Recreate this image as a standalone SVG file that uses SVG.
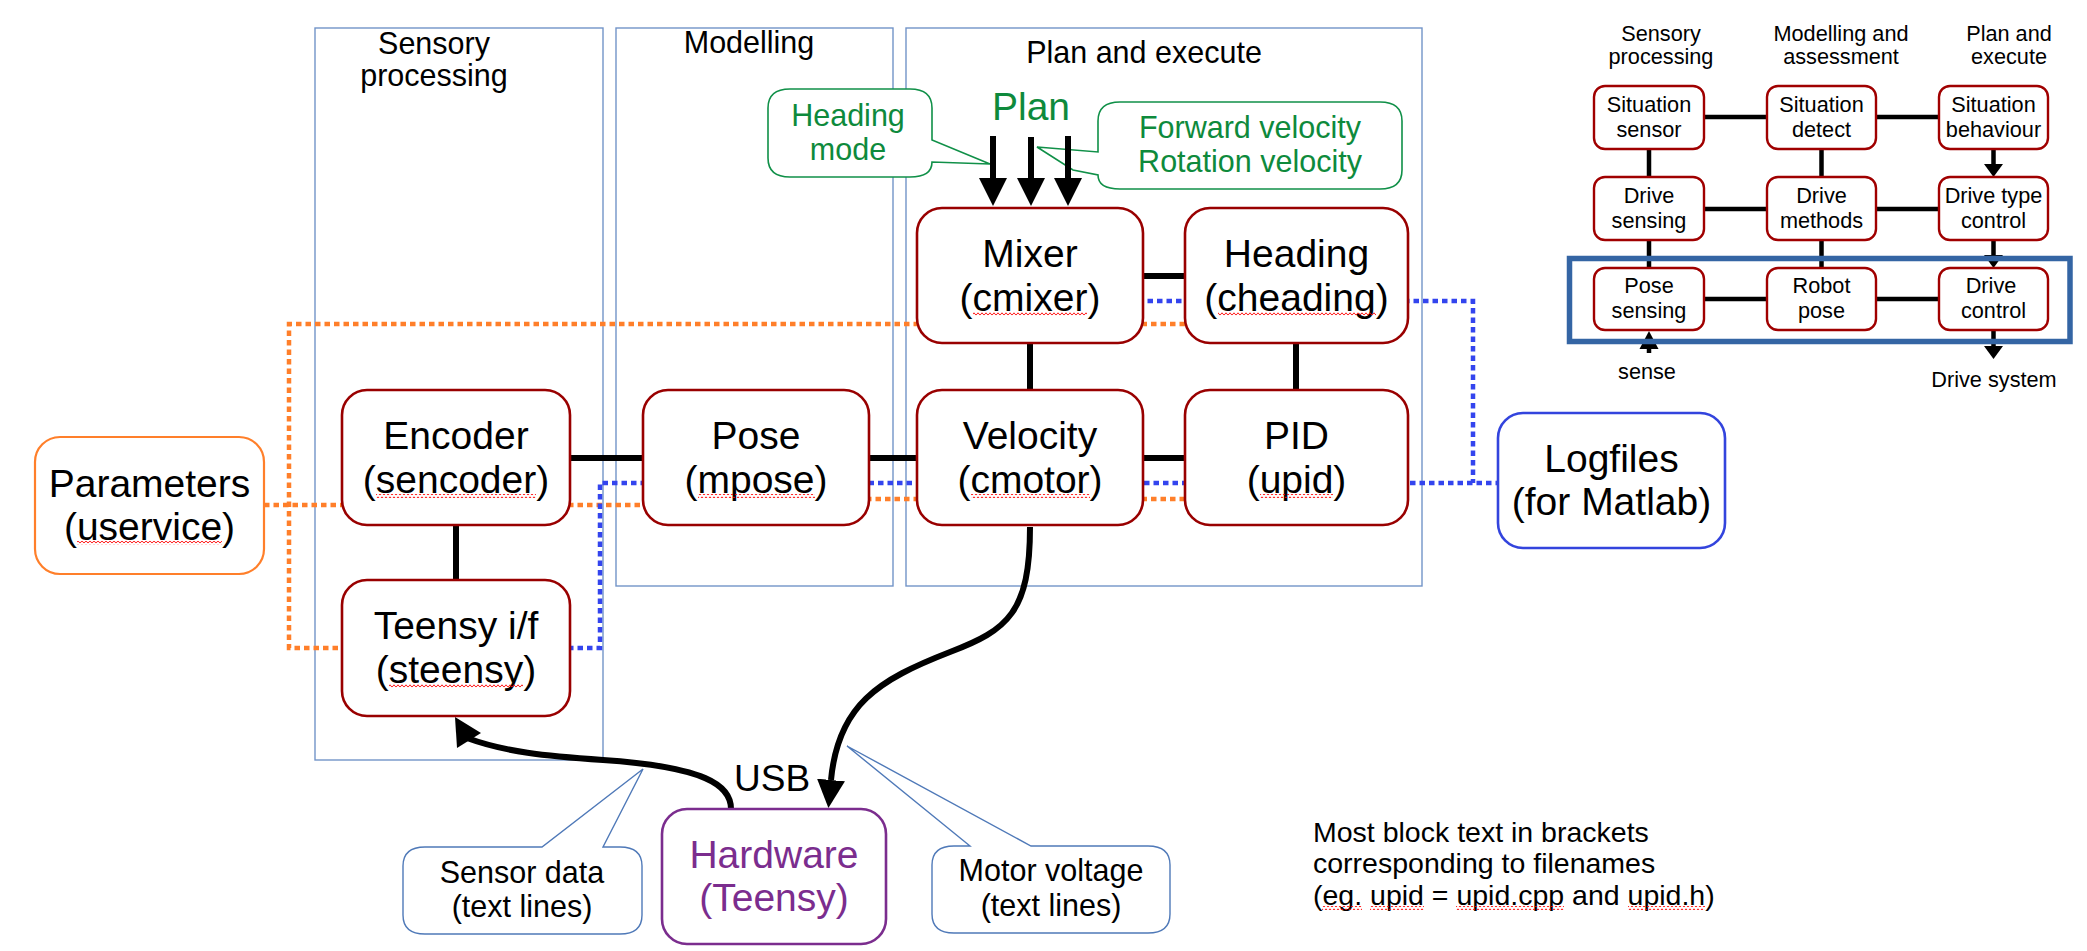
<svg xmlns="http://www.w3.org/2000/svg" width="2087" height="951" viewBox="0 0 2087 951">
<defs>
<style>
text{font-family:"Liberation Sans",Arial,sans-serif;fill:#000}
.c{text-anchor:middle}
.big{font-size:39px}
.ttl{font-size:30.5px}
.sm{font-size:21.7px}
.note{font-size:28.5px}
.grn{fill:#0e8a3c}
.pur{fill:#7b2d8e}
.cont{fill:none;stroke:#7294c8;stroke-width:1.4}
.node{fill:#fff;stroke:#990000;stroke-width:2.6}
.snode{fill:#fff;stroke:#a00000;stroke-width:2.4}
.conn{stroke:#000;stroke-width:6;fill:none}
.sconn{stroke:#000;stroke-width:4.5;fill:none}
.orange{stroke:#ff7f2a;stroke-width:4.5;stroke-dasharray:5.5 4;fill:none}
.blue{stroke:#3344ee;stroke-width:4.5;stroke-dasharray:5.5 4;fill:none}
.call{fill:#fff;stroke:#4f79b8;stroke-width:1.4}
.gcall{fill:#fff;stroke:#109048;stroke-width:1.6}
.sq{fill:url(#sq)}
.head{fill:#000}
</style>
<pattern id="sq" width="4" height="4" patternUnits="userSpaceOnUse"><path d="M0,3.2 L2,0.8 L4,3.2" fill="none" stroke="#f00" stroke-width="0.9"/></pattern>
<marker id="ah" markerUnits="userSpaceOnUse" markerWidth="28" markerHeight="28" refX="0" refY="14" orient="auto" viewBox="0 0 28 28"><path d="M0,0 L28,14 L0,28 Z" fill="#000"/></marker>
<marker id="sah" markerUnits="userSpaceOnUse" markerWidth="13" markerHeight="19" refX="0" refY="9.5" orient="auto" viewBox="0 0 13 19"><path d="M0,0 L13,9.5 L0,19 Z" fill="#000"/></marker>
</defs>
<rect width="2087" height="951" fill="#fff"/>

<g id="containers">
<rect class="cont" x="315" y="28" width="288" height="732"/>
<rect class="cont" x="616" y="28" width="277" height="558"/>
<rect class="cont" x="906" y="28" width="516" height="558"/>
<text class="c ttl" x="434" y="54">Sensory</text>
<text class="c ttl" x="434" y="86">processing</text>
<text class="c ttl" x="749" y="53">Modelling</text>
<text class="c ttl" x="1144" y="63">Plan and execute</text>
</g>

<g id="connectors">
<path class="orange" d="M1185,324 H289 V648 H342"/>
<path class="orange" d="M264,505 H755 V499 H1185"/>
<path class="blue" d="M568,648 H600 V483 H1498"/>
<path class="blue" d="M1100,301 H1473 V483"/>
<line class="conn" x1="456" y1="525" x2="456" y2="580"/>
<line class="conn" x1="570" y1="458" x2="643" y2="458"/>
<line class="conn" x1="869" y1="458" x2="917" y2="458"/>
<line class="conn" x1="1143" y1="458" x2="1185" y2="458"/>
<line class="conn" x1="1143" y1="276" x2="1185" y2="276"/>
<line class="conn" x1="1030" y1="342" x2="1030" y2="390"/>
<line class="conn" x1="1296" y1="342" x2="1296" y2="390"/>
</g>

<g id="callout-heading-mode">
<path class="gcall" d="M790,89 H910 Q932,89 932,108 V140 L990,164 L932,162 Q932,177 910,177 H790 Q768,177 768,158 V108 Q768,89 790,89 Z"/>
<text class="c ttl grn" x="848" y="126">Heading</text>
<text class="c ttl grn" x="848" y="160">mode</text>
</g>
<g id="callout-velocity">
<path class="gcall" d="M1120,102 H1380 Q1402,102 1402,121 V170 Q1402,189 1380,189 H1120 Q1098,189 1098,175 L1073,170 L1037,147 L1098,152 V121 Q1098,102 1120,102 Z"/>
<text class="c ttl grn" x="1250" y="138">Forward velocity</text>
<text class="c ttl grn" x="1250" y="172">Rotation velocity</text>
</g>
<g id="callout-sensor-data">
<path class="call" d="M425,847 H542 L643,769 L603,847 H620 Q642,847 642,866 V915 Q642,934 620,934 H425 Q403,934 403,915 V866 Q403,847 425,847 Z"/>
<text class="c ttl" x="522" y="883">Sensor data</text>
<text class="c ttl" x="522" y="917">(text lines)</text>
</g>
<g id="callout-motor-voltage">
<path class="call" d="M954,846 H970 L847,746 L1031,846 H1148 Q1170,846 1170,865 V914 Q1170,933 1148,933 H954 Q932,933 932,914 V865 Q932,846 954,846 Z"/>
<text class="c ttl" x="1051" y="881">Motor voltage</text>
<text class="c ttl" x="1051" y="916">(text lines)</text>
</g>

<g id="usb-links">
<path class="conn" d="M1030,527 C1030,612 1008,630 950,652 C878,680 838,705 831,780" marker-end="url(#ah)"/>
<path class="conn" d="M731,809 C731,785 705,767 603,760 C545,756 505,752 467,738"/>
<polygon class="head" points="455,717 457,748 481,733"/>
<text x="734" y="791" style="font-size:37px">USB</text>
</g>

<g id="plan">
<text class="c grn" x="1031" y="120" style="font-size:39px">Plan</text>
<line class="conn" x1="993" y1="136" x2="993" y2="178" marker-end="url(#ah)"/>
<line class="conn" x1="1031" y1="137" x2="1031" y2="178" marker-end="url(#ah)"/>
<line class="conn" x1="1068" y1="136" x2="1068" y2="178" marker-end="url(#ah)"/>
</g>

<g id="parameters">
<rect x="35" y="437" width="229" height="137" rx="25" fill="#fff" stroke="#ff7f2a" stroke-width="2.2"/>
<text class="c big" x="149.5" y="497">Parameters</text>
<text class="c big" x="149.5" y="540">(uservice)</text>
<rect class="sq" x="77" y="541" width="145" height="4"/>
</g>
<g id="encoder">
<rect class="node" x="342" y="390" width="228" height="135" rx="25"/>
<text class="c big" x="456" y="449">Encoder</text>
<text class="c big" x="456" y="493">(sencoder)</text>
<rect class="sq" x="376" y="494" width="160" height="4"/>
</g>
<g id="teensy">
<rect class="node" x="342" y="580" width="228" height="136" rx="25"/>
<text class="c big" x="456" y="639">Teensy i/f</text>
<text class="c big" x="456" y="683">(steensy)</text>
<rect class="sq" x="389" y="684" width="134" height="4"/>
</g>
<g id="pose">
<rect class="node" x="643" y="390" width="226" height="135" rx="25"/>
<text class="c big" x="756" y="449">Pose</text>
<text class="c big" x="756" y="493">(mpose)</text>
<rect class="sq" x="698" y="494" width="117" height="4"/>
</g>
<g id="velocity">
<rect class="node" x="917" y="390" width="226" height="135" rx="25"/>
<text class="c big" x="1030" y="449">Velocity</text>
<text class="c big" x="1030" y="493">(cmotor)</text>
<rect class="sq" x="971" y="494" width="119" height="4"/>
</g>
<g id="pid">
<rect class="node" x="1185" y="390" width="223" height="135" rx="25"/>
<text class="c big" x="1296.5" y="449">PID</text>
<text class="c big" x="1296.5" y="493">(upid)</text>
<rect class="sq" x="1260" y="494" width="73" height="4"/>
</g>
<g id="mixer">
<rect class="node" x="917" y="208" width="226" height="135" rx="25"/>
<text class="c big" x="1030" y="267">Mixer</text>
<text class="c big" x="1030" y="311">(cmixer)</text>
<rect class="sq" x="973" y="312" width="114" height="4"/>
</g>
<g id="heading">
<rect class="node" x="1185" y="208" width="223" height="135" rx="25"/>
<text class="c big" x="1296.5" y="267">Heading</text>
<text class="c big" x="1296.5" y="311">(cheading)</text>
<rect class="sq" x="1218" y="312" width="158" height="4"/>
</g>
<g id="logfiles">
<rect x="1498" y="413" width="227" height="135" rx="25" fill="#fff" stroke="#3344dd" stroke-width="2.6"/>
<text class="c big" x="1611.5" y="472">Logfiles</text>
<text class="c big" x="1611.5" y="515">(for Matlab)</text>
</g>
<g id="hardware">
<rect x="662" y="809" width="224" height="135" rx="25" fill="#fff" stroke="#7b2d8e" stroke-width="2.6"/>
<text class="c big pur" x="774" y="868">Hardware</text>
<text class="c big pur" x="774" y="911">(Teensy)</text>
</g>

<g id="note">
<text class="note" x="1313" y="842">Most block text in brackets</text>
<text class="note" x="1313" y="873">corresponding to filenames</text>
<text class="note" x="1313" y="905">(eg. upid = upid.cpp and upid.h)</text>
<rect class="sq" x="1322" y="906" width="40" height="4"/>
<rect class="sq" x="1370" y="906" width="54" height="4"/>
<rect class="sq" x="1456" y="906" width="108" height="4"/>
<rect class="sq" x="1628" y="906" width="77" height="4"/>
</g>

<g id="overview-diagram">
<g id="overview-titles">
<text class="c sm" x="1661" y="41">Sensory</text>
<text class="c sm" x="1661" y="64">processing</text>
<text class="c sm" x="1841" y="41">Modelling and</text>
<text class="c sm" x="1841" y="64">assessment</text>
<text class="c sm" x="2009" y="41">Plan and</text>
<text class="c sm" x="2009" y="64">execute</text>
</g>
<g id="overview-connectors">
<line class="sconn" x1="1704" y1="117" x2="1767" y2="117"/>
<line class="sconn" x1="1876" y1="117" x2="1939" y2="117"/>
<line class="sconn" x1="1704" y1="209" x2="1767" y2="209"/>
<line class="sconn" x1="1876" y1="209" x2="1939" y2="209"/>
<line class="sconn" x1="1704" y1="299" x2="1767" y2="299"/>
<line class="sconn" x1="1876" y1="299" x2="1939" y2="299"/>
<line class="sconn" x1="1649" y1="149" x2="1649" y2="177"/>
<line class="sconn" x1="1649" y1="240" x2="1649" y2="268"/>
<line class="sconn" x1="1821.5" y1="149" x2="1821.5" y2="177"/>
<line class="sconn" x1="1821.5" y1="240" x2="1821.5" y2="268"/>
<line class="sconn" x1="1993.5" y1="149" x2="1993.5" y2="164" marker-end="url(#sah)"/>
<line class="sconn" x1="1993.5" y1="240" x2="1993.5" y2="255" marker-end="url(#sah)"/>
<line class="sconn" x1="1993.5" y1="330" x2="1993.5" y2="346" marker-end="url(#sah)"/>
<line class="sconn" x1="1649" y1="353" x2="1649" y2="348"/>
<polygon class="head" points="1649,331 1639.5,349 1658.5,349"/>
</g>
<rect id="overview-frame" x="1569.5" y="258.5" width="500.5" height="83" fill="none" stroke="#3465a4" stroke-width="5.5"/>
<g id="situation-sensor"><rect class="snode" x="1594" y="86" width="110" height="63" rx="11"/><text class="c sm" x="1649" y="112">Situation</text><text class="c sm" x="1649" y="137">sensor</text></g>
<g id="situation-detect"><rect class="snode" x="1767" y="86" width="109" height="63" rx="11"/><text class="c sm" x="1821.5" y="112">Situation</text><text class="c sm" x="1821.5" y="137">detect</text></g>
<g id="situation-behaviour"><rect class="snode" x="1939" y="86" width="109" height="63" rx="11"/><text class="c sm" x="1993.5" y="112">Situation</text><text class="c sm" x="1993.5" y="137">behaviour</text></g>
<g id="drive-sensing"><rect class="snode" x="1594" y="177" width="110" height="63" rx="11"/><text class="c sm" x="1649" y="203">Drive</text><text class="c sm" x="1649" y="228">sensing</text></g>
<g id="drive-methods"><rect class="snode" x="1767" y="177" width="109" height="63" rx="11"/><text class="c sm" x="1821.5" y="203">Drive</text><text class="c sm" x="1821.5" y="228">methods</text></g>
<g id="drive-type-control"><rect class="snode" x="1939" y="177" width="109" height="63" rx="11"/><text class="c sm" x="1993.5" y="203">Drive type</text><text class="c sm" x="1993.5" y="228">control</text></g>
<g id="pose-sensing"><rect class="snode" x="1594" y="268" width="110" height="62" rx="11"/><text class="c sm" x="1649" y="293">Pose</text><text class="c sm" x="1649" y="318">sensing</text></g>
<g id="robot-pose"><rect class="snode" x="1767" y="268" width="109" height="62" rx="11"/><text class="c sm" x="1821.5" y="293">Robot</text><text class="c sm" x="1821.5" y="318">pose</text></g>
<g id="drive-control"><rect class="snode" x="1939" y="268" width="109" height="62" rx="11"/><text class="c sm" x="1991" y="293">Drive</text><text class="c sm" x="1993.5" y="318">control</text></g>
<text class="c sm" x="1647" y="379">sense</text>
<text class="c sm" x="1994" y="387">Drive system</text>
</g>
</svg>
